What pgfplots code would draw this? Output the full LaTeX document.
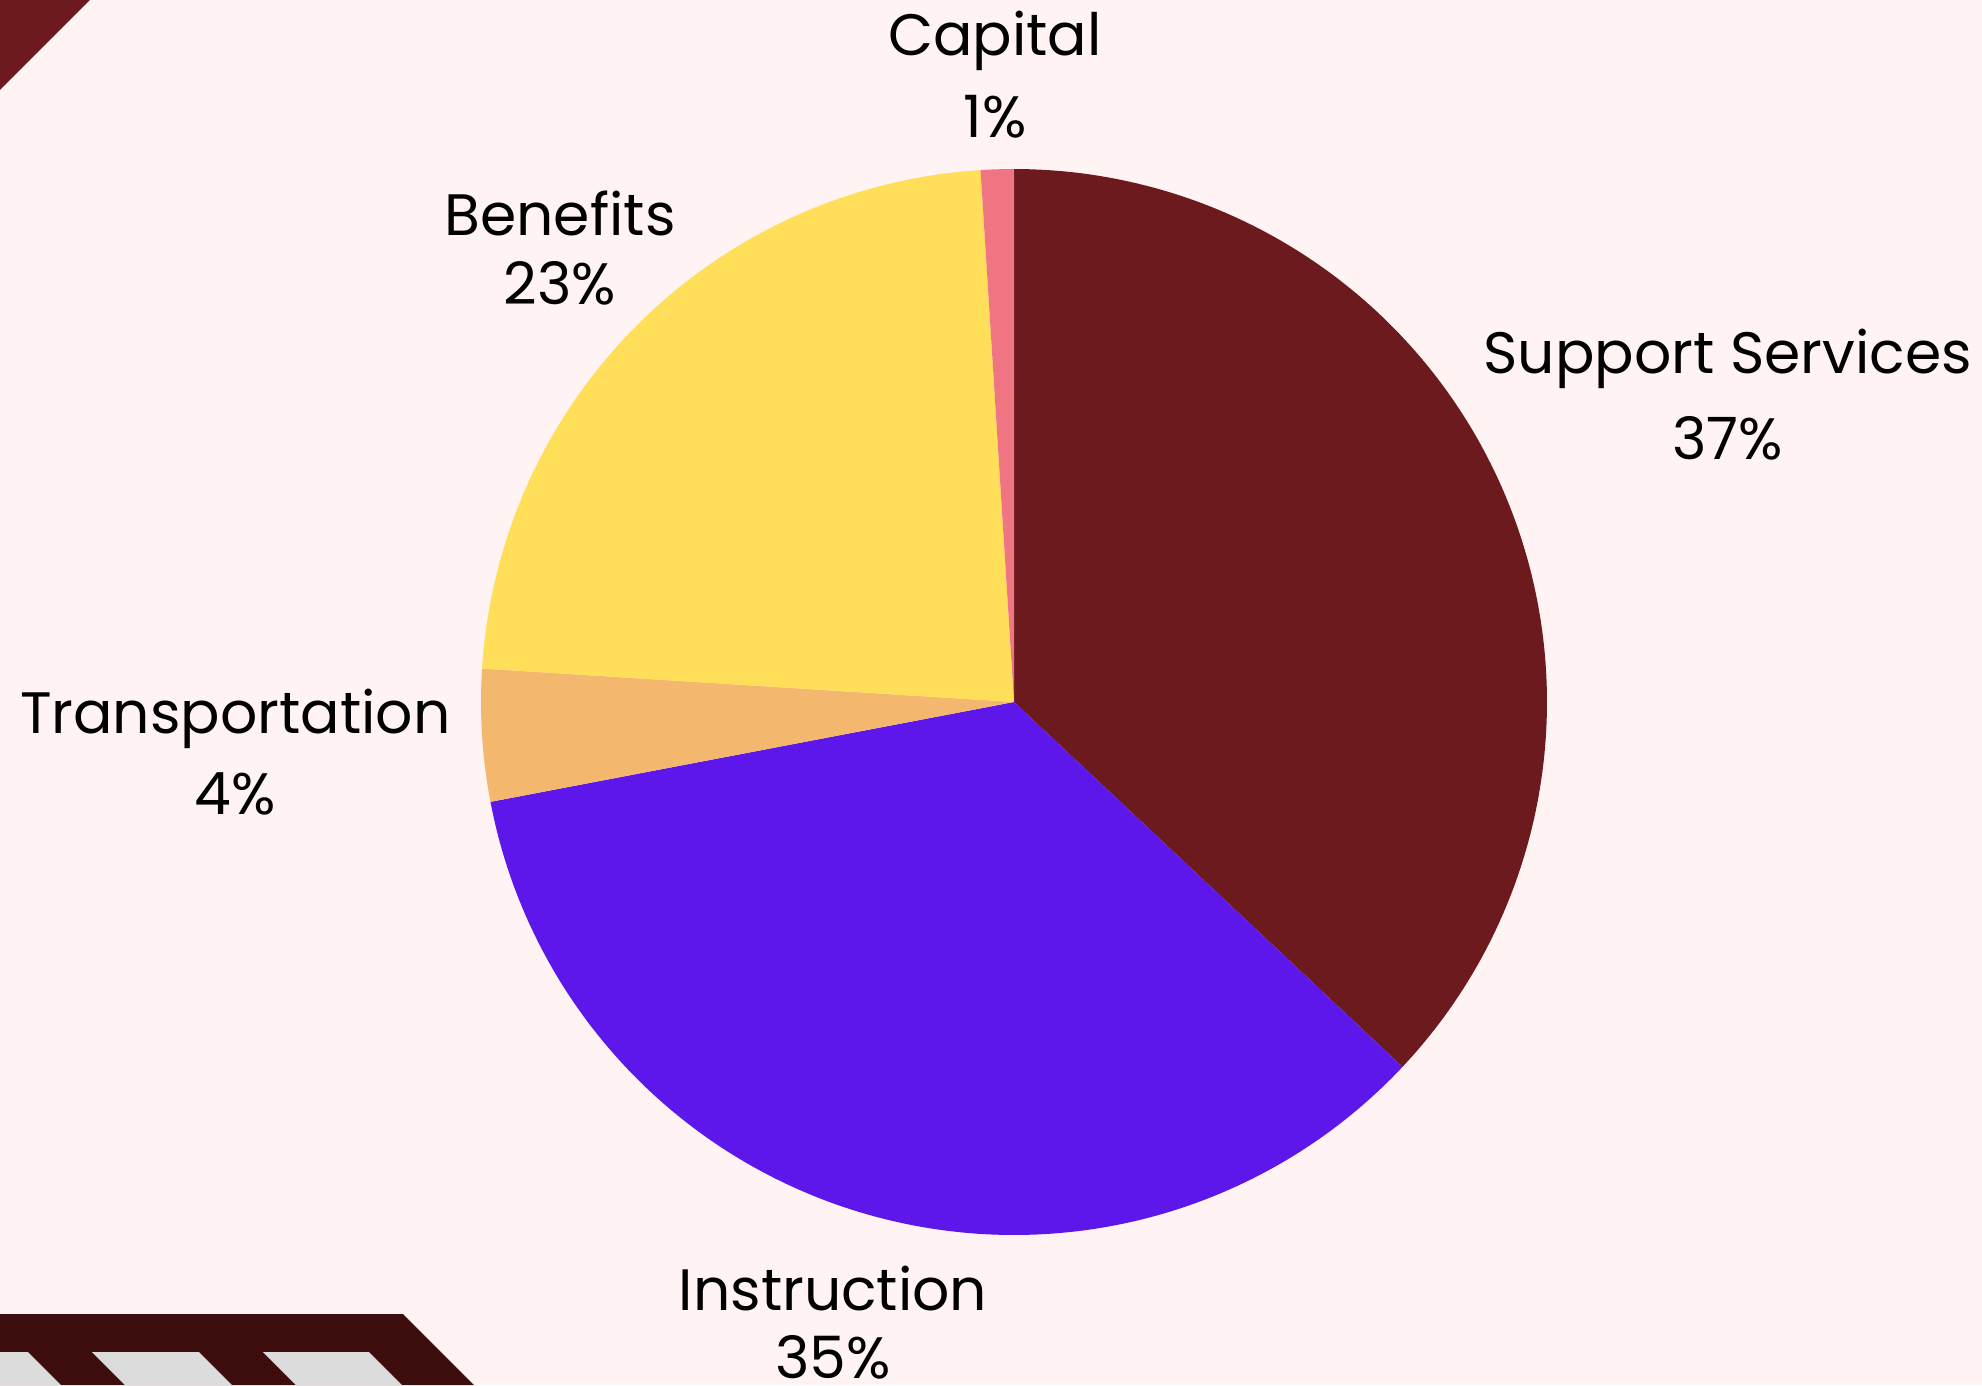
\documentclass[border=0pt]{standalone}
\usepackage{pgfplots}
\usepackage{pgfplotstable}
\pgfplotsset{compat=1.18}
\usepackage{fontspec}
\setmainfont{Poppins}

\definecolor{bg}{RGB}{255,244,243}
\definecolor{decored}{RGB}{108,26,29}
\definecolor{decodark}{RGB}{61,13,13}
\definecolor{decogrey}{RGB}{220,220,220}
\definecolor{pie0}{RGB}{108,26,29}
\definecolor{pie1}{RGB}{94,23,235}
\definecolor{pie2}{RGB}{243,184,110}
\definecolor{pie3}{RGB}{255,222,89}
\definecolor{pie4}{RGB}{240,117,130}

% slices clockwise from 12 o'clock
% lr = label radius factor, ldy = label shift (px), gap = baseline gap (px)
\pgfplotstableread[col sep=comma]{
label,value,lr,ldy,gap
Support Services,37,1.459,-23,86
Instruction,35,1.217,-20,68
Transportation,4,1.464,-23,81
Benefits,23,1.2045,-22,69
Capital,1,1.136,0,82
}\piedata

% picture is laid out in pixel units of the 1982x1385 reference
\def\cx{1014}
\def\cy{683}
\def\r{533}

\begin{document}
\begin{tikzpicture}
% cumulative angles for each slice
\pgfplotstablegetrowsof{\piedata}
\pgfmathtruncatemacro\nrows{\pgfplotsretval-1}
\def\total{0}
\pgfplotsforeachungrouped \i in {0,...,\nrows}{%
  \pgfplotstablegetelem{\i}{value}\of\piedata
  \pgfmathsetmacro\total{\total+\pgfplotsretval}%
}
\def\cumangle{90}
\pgfplotsforeachungrouped \i in {0,...,\nrows}{%
  \pgfplotstablegetelem{\i}{value}\of\piedata \let\v\pgfplotsretval
  \pgfplotstablegetelem{\i}{lr}\of\piedata \let\lr\pgfplotsretval
  \pgfplotstablegetelem{\i}{ldy}\of\piedata \let\ldy\pgfplotsretval
  \pgfplotstablegetelem{\i}{gap}\of\piedata \let\gap\pgfplotsretval
  \pgfplotstablegetelem{\i}{label}\of\piedata
  \expandafter\let\csname lab\i\endcsname\pgfplotsretval
  \expandafter\let\csname val\i\endcsname\v
  \pgfmathsetmacro\endangle{\cumangle-360*\v/\total}%
  \pgfmathsetmacro\midangle{(\cumangle+\endangle)/2}%
  \expandafter\edef\csname sa\i\endcsname{\cumangle}%
  \expandafter\edef\csname ea\i\endcsname{\endangle}%
  \pgfmathsetmacro\lx{\cx+\r*\lr*cos(\midangle)}%
  \pgfmathsetmacro\ly{\cy+\r*\lr*sin(\midangle)+\ldy}%
  \pgfmathsetmacro\lya{\ly+\gap/2}%
  \pgfmathsetmacro\lyb{\ly-\gap/2}%
  \expandafter\let\csname lx\i\endcsname\lx
  \expandafter\let\csname lya\i\endcsname\lya
  \expandafter\let\csname lyb\i\endcsname\lyb
  \let\cumangle\endangle
}%
\useasboundingbox (0,0) rectangle (495.5pt,346.25pt);
\clip (0,0) rectangle (495.5pt,346.25pt);
\fill[bg] (0,0) rectangle (495.5pt,346.25pt);
\begin{axis}[
    at={(0,0)},
    anchor=origin,
    width=495.5pt,
    height=346.25pt,
    scale only axis,
    xmin=0, xmax=1982,
    ymin=0, ymax=1385,
    hide axis,
    clip=false
]
% corner decorations
\fill[decored] (axis cs:0,1385) -- (axis cs:90,1385) -- (axis cs:0,1295) -- cycle;
\fill[decodark] (axis cs:0,0) -- (axis cs:0,71) -- (axis cs:403,71) -- (axis cs:474,0) -- cycle;
\fill[decogrey] (axis cs:0,33) -- (axis cs:28,33) -- (axis cs:61,0) -- (axis cs:0,0) -- cycle;
\fill[decogrey] (axis cs:92,33) -- (axis cs:199,33) -- (axis cs:232,0) -- (axis cs:125,0) -- cycle;
\fill[decogrey] (axis cs:263,33) -- (axis cs:369,33) -- (axis cs:402,0) -- (axis cs:296,0) -- cycle;

\pgfplotsinvokeforeach{0,...,4}{
  \edef\temp{\noexpand\addplot[fill=pie#1, draw=none, domain=\csname ea#1\endcsname:\csname sa#1\endcsname, samples=150]
    ({\cx+\r*cos(x)},{\cy+\r*sin(x)}) -- (axis cs:\cx,\cy) -- cycle;}
  \temp
  \node[anchor=base, inner sep=0pt, font=\fontsize{14.6}{18}\selectfont, text=black]
    at (axis cs:\csname lx#1\endcsname,\csname lya#1\endcsname) {\csname lab#1\endcsname};
  \node[anchor=base, inner sep=0pt, font=\fontsize{14.6}{18}\selectfont, text=black]
    at (axis cs:\csname lx#1\endcsname,\csname lyb#1\endcsname) {\csname val#1\endcsname\%};
}
\end{axis}
\end{tikzpicture}
\end{document}
